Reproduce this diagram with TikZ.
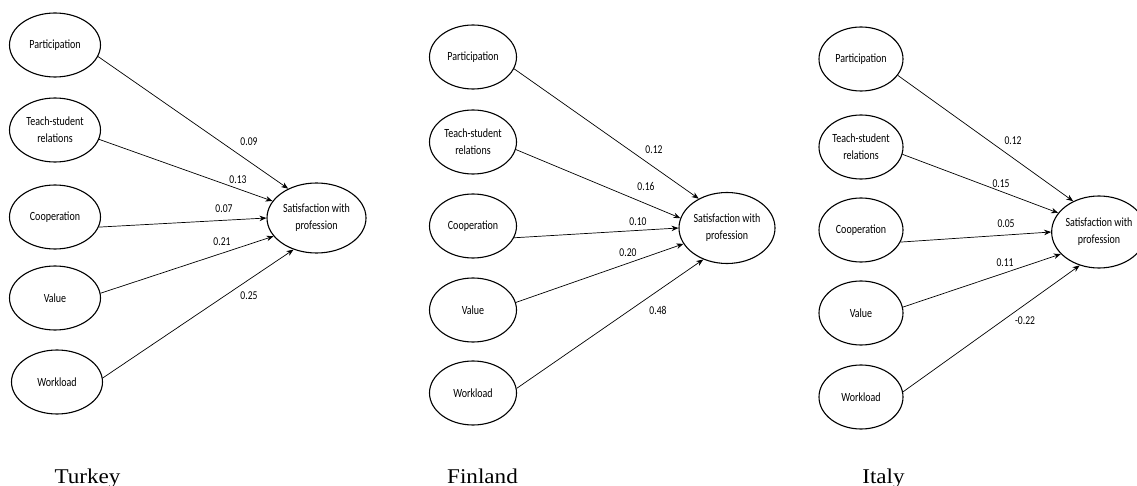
\documentclass[tikz,border=0pt]{standalone}
\usepackage{fontspec}
\usetikzlibrary{shapes.geometric,arrows.meta}
\newfontfamily\cfont[FakeStretch=0.8]{Carlito}
\newfontfamily\tfont[FakeStretch=1.1]{Liberation Serif}
\tikzset{
  var/.style={draw, ellipse, line width=1.1pt, inner sep=0pt, minimum width=89pt, minimum height=64pt,
    align=center, font=\cfont\fontsize{12.5}{16.7}\selectfont},
  sat/.style={var, minimum width=97pt, minimum height=71pt},
  path/.style={line width=0.7pt, -{Stealth[length=7pt,width=5.5pt]}},
  coef/.style={font=\cfont\fontsize{12}{13}\selectfont, inner sep=0pt},
  country/.style={font=\tfont\fontsize{21}{24}\selectfont, anchor=base, inner sep=0pt}
}
\begin{document}
\begin{tikzpicture}[x=1pt,y=-1pt]
\useasboundingbox (0,0) rectangle (1137,486);
\clip (0,0) rectangle (1137,486);
% ---------- Turkey ----------
\node[var, minimum width=91pt] (tP) at (55,45) {Participation};
\node[var, minimum width=91pt] (tT) at (55,130) {Teach-student\\relations};
\node[var, minimum width=91pt] (tC) at (55,217) {Cooperation};
\node[var, minimum width=91pt] (tV) at (55,298) {Value};
\node[var, minimum width=91pt] (tW) at (57,382) {Workload};
\node[sat, minimum width=99pt, minimum height=70pt] (tS) at (316.5,218) {Satisfaction with\\profession};
\draw[path] (tP.-15) -- (tS.134);
\draw[path] (tT.-12) -- (tS.159);
\draw[path] (tC.-13) -- (tS.180);
\draw[path] (tV.6) -- (tS.203);
\draw[path] (tW.5) -- (tS.234);
\node[coef] (tl1) at (249,142) {0.09};
\node[coef] (tl2) at (238,180) {0.13};
\node[coef] (tl3) at (224,209) {0.07};
\node[coef] (tl4) at (222,242) {0.21};
\node[coef] (tl5) at (249,296) {0.25};
\node[country] (tname) at (87.5,483) {Turkey};
% ---------- Finland ----------
\node[var, minimum width=87pt] (fP) at (473,57) {Participation};
\node[var, minimum width=87pt] (fT) at (473,142) {Teach-student\\relations};
\node[var, minimum width=87pt] (fC) at (473,226) {Cooperation};
\node[var, minimum width=87pt] (fV) at (473,310) {Value};
\node[var, minimum width=87pt] (fW) at (473,393) {Workload};
\node[sat, minimum width=96pt, minimum height=71pt] (fS) at (727,228) {Satisfaction with\\profession};
\draw[path] (fP.-16) -- (fS.134);
\draw[path] (fT.-10) -- (fS.168);
\draw[path] (fC.-16) -- (fS.180);
\draw[path] (fV.10) -- (fS.200);
\draw[path] (fW.6) -- (fS.233);
\node[coef] (fl1) at (654,150) {0.12};
\node[coef] (fl2) at (646,186) {0.16};
\node[coef] (fl3) at (638,222) {0.10};
\node[coef] (fl4) at (628,253) {0.20};
\node[coef] (fl5) at (658,310) {0.48};
\node[country] (fname) at (482.5,483) {Finland};
% ---------- Italy ----------
\node[var, minimum width=84pt] (iP) at (861,59) {Participation};
\node[var, minimum width=84pt] (iT) at (861,147) {Teach-student\\relations};
\node[var, minimum width=84pt] (iC) at (861,230) {Cooperation};
\node[var, minimum width=84pt] (iV) at (861,313) {Value};
\node[var, minimum width=84pt] (iW) at (861,397) {Workload};
\node[sat, minimum width=86pt, minimum height=72pt] (iS) at (1099,232) {Satisfaction with\\profession};
\draw[path] (iP.-24) -- (iS.130);
\draw[path] (iT.-10) -- (iS.155);
\draw[path] (iC.-17) -- (iS.180);
\draw[path] (iV.8) -- (iS.210);
\draw[path] (iW.7) -- (iS.240);
\node[coef] (il1) at (1013,141) {0.12};
\node[coef] (il2) at (1001,184) {0.15};
\node[coef] (il3) at (1006,224) {0.05};
\node[coef] (il4) at (1005,263) {0.11};
\node[coef] (il5) at (1025,321) {-0.22};
\node[country] (iname) at (883.5,483) {Italy};
\end{tikzpicture}
\end{document}
